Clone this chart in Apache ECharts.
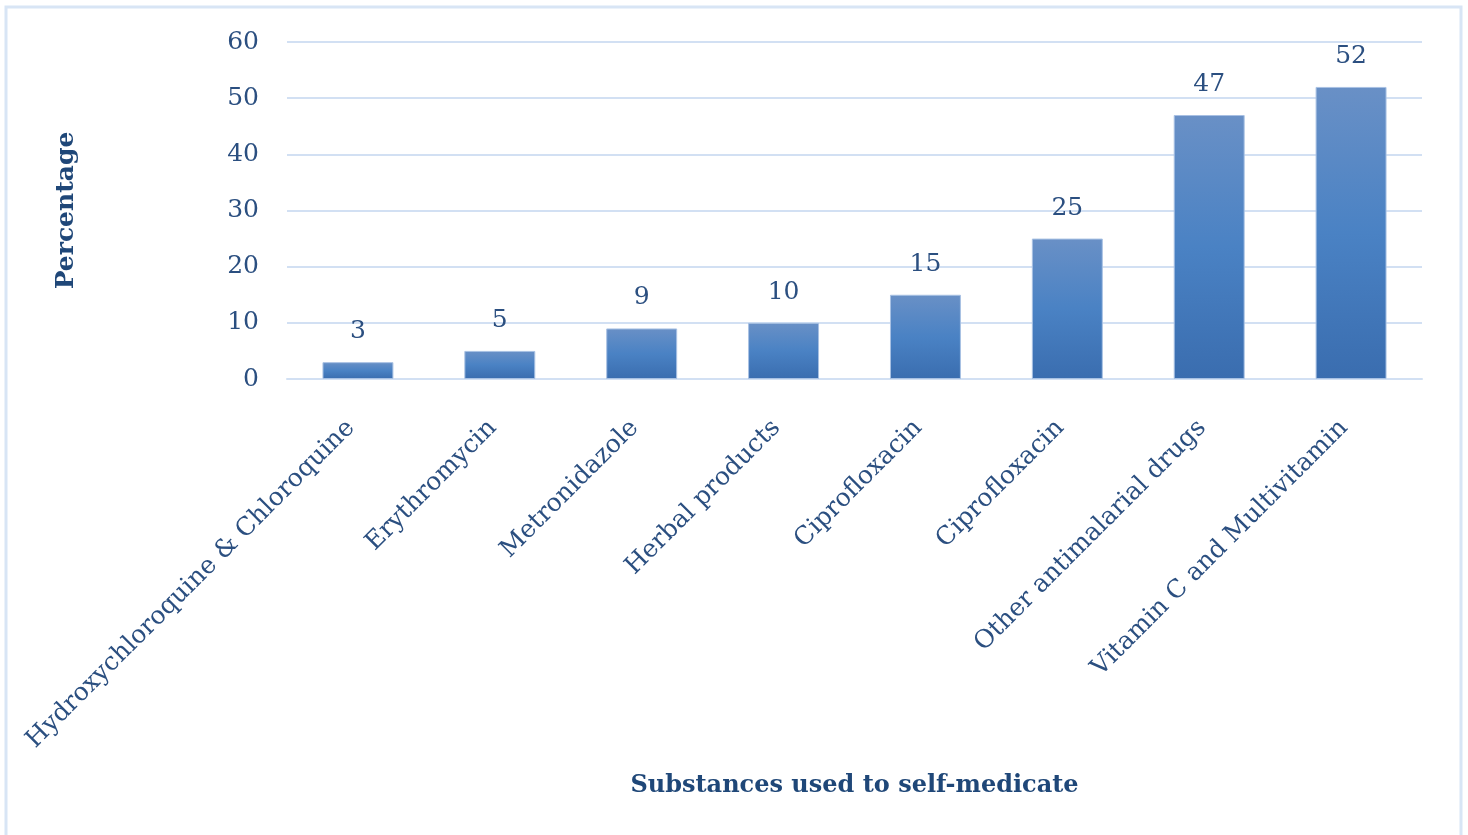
<!DOCTYPE html>
<html>
<head>
<meta charset="utf-8">
<script src="https://cdn.jsdelivr.net/npm/echarts@6/dist/echarts.min.js"></script>
<style>
html,body{margin:0;padding:0;background:#fff;}
#c{width:1468px;height:835px;}
</style>
</head>
<body>
<div id="c"></div>
<script>
const categories = ["Hydroxychloroquine & Chloroquine", "Erythromycin", "Metronidazole", "Herbal products", "Ciprofloxacin", "Ciprofloxacin", "Other antimalarial drugs", "Vitamin C and Multivitamin"];
const values = [3, 5, 9, 10, 15, 25, 47, 52];
const yTicks = [0, 10, 20, 30, 40, 50, 60];

const FONT = "DejaVu Serif";
const chart = echarts.init(document.getElementById('c'), null, {renderer: 'canvas'});
chart.setOption({
  animation: false,
  backgroundColor: '#ffffff',
  graphic: [{
    type: 'rect',
    shape: {x: 6, y: 7, width: 1455, height: 840},
    style: {fill: 'none', stroke: '#d8e5f5', lineWidth: 3},
    silent: true
  }],
  grid: {left: 287, right: 46, top: 42, bottom: 456},
  xAxis: {
    type: 'category',
    data: categories,
    name: 'Substances used to self-medicate',
    nameLocation: 'middle',
    nameGap: 395,
    nameTextStyle: {fontFamily: FONT, fontSize: 24, fontWeight: 'bold', color: '#1f4778'},
    axisLine: {show: true, lineStyle: {color: '#d2e0f3', width: 2}},
    axisTick: {show: false},
    axisLabel: {rotate: 45, interval: 0, margin: 38, padding: [0, 10, 0, 0], fontFamily: FONT, fontSize: 25, color: '#2b4f80'}
  },
  yAxis: {
    type: 'value',
    min: yTicks[0],
    max: yTicks[yTicks.length - 1],
    interval: yTicks[1] - yTicks[0],
    name: 'Percentage',
    nameLocation: 'middle',
    nameGap: 208,
    nameTextStyle: {fontFamily: FONT, fontSize: 25, fontWeight: 'bold', color: '#1f4778'},
    axisLine: {show: false},
    axisTick: {show: false},
    axisLabel: {margin: 28, fontFamily: FONT, fontSize: 25, color: '#2b4f80'},
    splitLine: {lineStyle: {color: '#d2e0f3', width: 2}}
  },
  series: [{
    type: 'bar',
    data: values,
    barWidth: '50%',
    itemStyle: {
      color: new echarts.graphic.LinearGradient(0, 0, 0, 1, [
        {offset: 0, color: '#6990c6'},
        {offset: 0.5, color: '#4a82c4'},
        {offset: 1, color: '#3a6daf'}
      ]),
      borderColor: '#a8c1e3',
      borderWidth: 1
    },
    label: {show: true, position: 'top', distance: 18, fontFamily: FONT, fontSize: 25, color: '#2b4f80'}
  }]
});
</script>
</body>
</html>
